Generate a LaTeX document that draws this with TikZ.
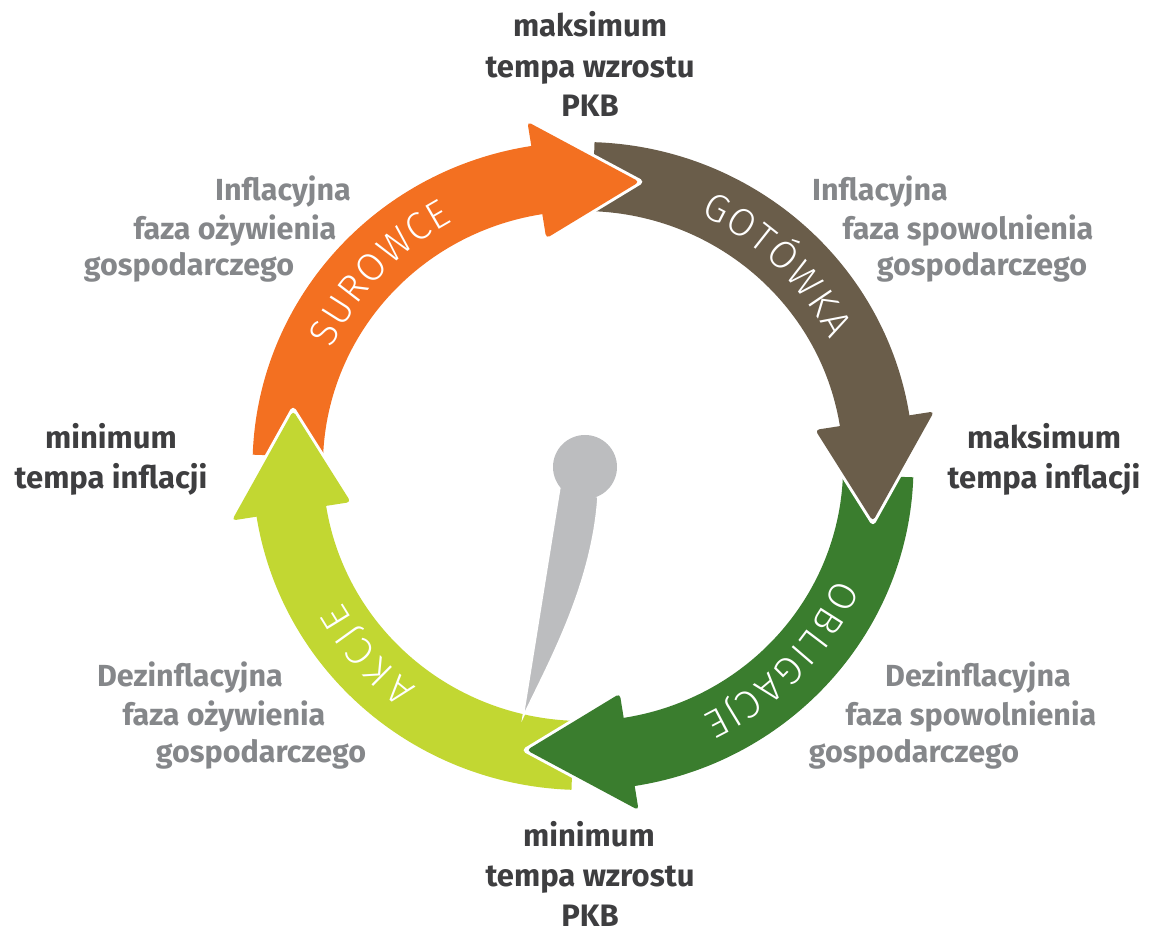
\documentclass[tikz,border=0pt]{standalone}
\usepackage{fontspec}
\setmainfont{Fira Sans}
\newfontfamily\lightfont{Fira Sans Light}
\usetikzlibrary{decorations.text}
\definecolor{cOrange}{HTML}{F37021}
\definecolor{cBrown}{HTML}{6A5D4A}
\definecolor{cGreen}{HTML}{3A7D2E}
\definecolor{cLime}{HTML}{C2D732}
\definecolor{cNeedle}{HTML}{BCBDBF}
\definecolor{cDark}{HTML}{3E3E40}
\definecolor{cGrey}{HTML}{85878A}
\def\Ro{324}\def\Ri{255}\def\Rm{289.5}\def\Hw{59}
\newcommand\arrowbody[3]{\fill[#1] (#2:\Ro) arc[start angle=#2, end angle=#3, radius=\Ro] -- (#3:\Ri) arc[start angle=#3, end angle=#2, radius=\Ri] -- cycle;}
\newcommand\arrowhead[3]{%
  \draw[white, line width=6pt, line join=round] ({#2}:{\Rm+\Hw}) -- (#3:\Rm) -- ({#2}:{\Rm-\Hw});
  \fill[#1, rounded corners=4pt] ({#2}:{\Rm+\Hw}) -- (#3:\Rm) -- ({#2}:{\Rm-\Hw}) -- cycle;}
\newcommand\lbl{\lightfont\fontsize{39}{39}\selectfont\color{white}}
\tikzset{
  darktxt/.style={anchor=base, text=cDark, font=\fontsize{31}{31}\selectfont\bfseries, inner sep=0pt},
  greytxt/.style={anchor=base, text=cGrey, font=\fontsize{30.5}{30.5}\selectfont\bfseries, inner sep=0pt},
  arclabel/.style={decorate, decoration={text along path, text align={fit to path}, text={|\lbl|#1}}}
}
\begin{document}
\begin{tikzpicture}[x=1pt, y=1pt]
\useasboundingbox (0,0) rectangle (1151,926);
% ring arrows
\begin{scope}[shift={(583,460)}, xscale=1.02]
  \arrowbody{cOrange}{178}{98}
  \arrowbody{cBrown}{88}{8}
  \arrowbody{cGreen}{-2}{-82}
  \arrowbody{cLime}{268}{188}
  \arrowhead{cOrange}{99}{79}
  \arrowhead{cBrown}{9}{-11}
  \arrowhead{cGreen}{-81}{-101}
  \arrowhead{cLime}{189}{169}
\end{scope}
% arc labels
\begin{scope}[shift={(583,460)}]
  \path[arclabel=SUROWCE] (155:277) arc[start angle=155, end angle=118, radius=277];
  \path[arclabel=GOTÓWKA] (65:277) arc[start angle=65, end angle=27, radius=277];
  \path[arclabel=OBLIGACJE] (-24:277) arc[start angle=-24, end angle=-64.5, radius=277];
  \path[arclabel=AKCJE] (233:277) arc[start angle=233, end angle=209.5, radius=277];
\end{scope}
% needle
\coordinate (nl) at (560,439);
\coordinate (nt) at (523,209);
\coordinate (nr) at (598,429);
\fill[cNeedle, draw=white, line width=1.5pt] (nl) -- (nt) .. controls (548,262) and (592,340) .. (nr) -- cycle;
\node[circle, fill=cNeedle, minimum size=64pt, inner sep=0pt] (hub) at (585,459) {};
% dark labels
\node[darktxt] (t1) at (590,889) {maksimum};
\node[darktxt] (t2) at (590,848) {tempa wzrostu};
\node[darktxt] (t3) at (590,809) {PKB};
\node[darktxt] (l1) at (111,477) {minimum};
\node[darktxt] (l2) at (111,437) {tempa inflacji};
\node[darktxt] (r1) at (1044,477) {maksimum};
\node[darktxt] (r2) at (1044,437) {tempa inflacji};
\node[darktxt] (b1) at (589,79) {minimum};
\node[darktxt] (b2) at (590,39) {tempa wzrostu};
\node[darktxt] (b3) at (590,-1) {PKB};
% grey labels
\node[greytxt] (g1) at (283,725) {Inflacyjna};
\node[greytxt] (g2) at (235,686) {faza ożywienia};
\node[greytxt] (g3) at (189,650) {gospodarczego};
\node[greytxt] (h1) at (880,725) {Inflacyjna};
\node[greytxt] (h2) at (968,686) {faza spowolnienia};
\node[greytxt] (h3) at (982,650) {gospodarczego};
\node[greytxt] (i1) at (190,239) {Dezinflacyjna};
\node[greytxt] (i2) at (224,200) {faza ożywienia};
\node[greytxt] (i3) at (261,163) {gospodarczego};
\node[greytxt] (j1) at (978,239) {Dezinflacyjna};
\node[greytxt] (j2) at (971,200) {faza spowolnienia};
\node[greytxt] (j3) at (914,163) {gospodarczego};
\end{tikzpicture}
\end{document}
